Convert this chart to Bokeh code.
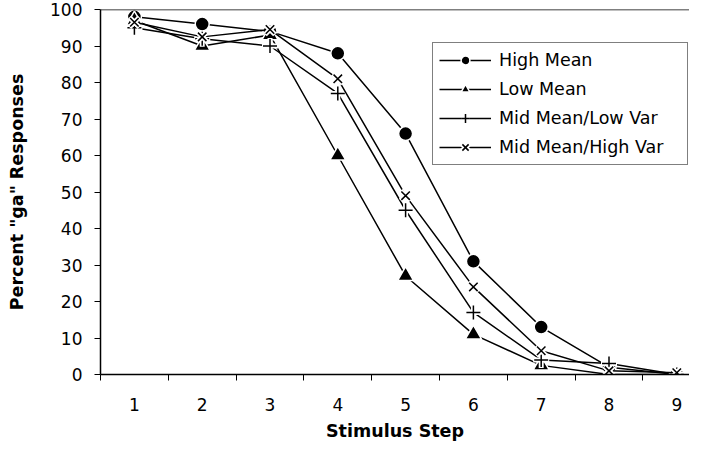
from bokeh.plotting import figure
from bokeh.models import Legend, LegendItem, FixedTicker, Span, Range1d
from bokeh.embed import file_html
from bokeh.resources import INLINE

steps = [1, 2, 3, 4, 5, 6, 7, 8, 9]
high_mean = [98, 96, 94, 88, 66, 31, 13, 2, 0]
low_mean = [97, 90, 93, 60, 27, 11, 2.5, 0, 0]
mid_low_var = [95, 92, 90, 77, 45, 17, 4, 3, 0]
mid_high_var = [96.5, 92.5, 94.5, 81, 49, 24, 6.5, 1, 0.5]
names = ["High Mean", "Low Mean", "Mid Mean/Low Var", "Mid Mean/High Var"]
y_ticks = [0, 10, 20, 30, 40, 50, 60, 70, 80, 90, 100]

FONT = "DejaVu Sans"
W, H = 689, 445
left, top = 100, 9
frame_h = 365
bottom = H - top - frame_h
px_per_step = 67.8
frame_w = W - left

p = figure(width=W, height=H, output_backend="svg", toolbar_location=None,
           x_range=Range1d(0.5, 0.5 + frame_w / px_per_step), y_range=Range1d(0, 100),
           min_border_left=left, min_border_top=top, min_border_bottom=bottom,
           min_border_right=0)
p.outline_line_color = None
p.grid.visible = False
p.background_fill_color = "white"
p.border_fill_color = "white"

# x axis: labels at category centres, ticks at boundaries (minor ticks)
xa = p.xaxis[0]
xa.ticker = FixedTicker(ticks=steps, minor_ticks=[s - 0.5 for s in steps] + [steps[-1] + 0.5])
xa.major_tick_line_color = None
xa.minor_tick_line_color = "black"
xa.minor_tick_out = 6
xa.minor_tick_in = 0
xa.axis_line_width = 1.5
xa.axis_line_color = "black"
xa.major_label_text_font = FONT
xa.major_label_text_font_size = "17px"
xa.major_label_text_color = "black"
xa.major_label_standoff = 17
xa.axis_label = "Stimulus Step"
xa.axis_label_text_font = FONT
xa.axis_label_text_font_style = "bold"
xa.axis_label_text_font_size = "17.5px"
xa.axis_label_text_color = "black"
xa.axis_label_standoff = 7

ya = p.yaxis[0]
ya.ticker = FixedTicker(ticks=y_ticks, minor_ticks=[])
ya.major_tick_out = 6
ya.major_tick_in = 0
ya.major_tick_line_color = "black"
ya.axis_line_width = 1.5
ya.axis_line_color = "black"
ya.major_label_text_font = FONT
ya.major_label_text_font_size = "17px"
ya.major_label_text_color = "black"
ya.major_label_standoff = 12
ya.axis_label = 'Percent "ga" Responses'
ya.axis_label_text_font = FONT
ya.axis_label_text_font_style = "bold"
ya.axis_label_text_font_size = "17.5px"
ya.axis_label_text_color = "black"
ya.axis_label_standoff = 20

p.add_layout(Span(location=100, dimension="width", line_color="black", line_width=1.5))

items = []
series = [
    (high_mean, "circle", 14),
    (low_mean, "triangle", 16),
    (mid_low_var, "cross", 14),
    (mid_high_var, "x", 12),
]
for (vals, marker, size), name in zip(series, names):
    rl = p.line(steps, vals, line_color="black", line_width=1.5)
    if marker in ("circle", "triangle"):
        rm = p.scatter(steps, vals, marker=marker, size=size, fill_color="black",
                       line_color="white", line_width=1.5)
        items.append(LegendItem(label=name, renderers=[rl, rm]))
    else:
        rh = p.scatter(steps, vals, marker=marker, size=size + 2, line_color="white",
                       line_width=5)
        rm = p.scatter(steps, vals, marker=marker, size=size, line_color="black",
                       line_width=1.5)
        items.append(LegendItem(label=name, renderers=[rl, rh, rm]))

legend = Legend(items=items, location=(332, 209))
legend.border_line_color = "black"
legend.border_line_width = 1
legend.background_fill_color = "white"
legend.background_fill_alpha = 1
legend.padding = 6
legend.margin = 0
legend.spacing = 7
legend.glyph_height = 22
legend.glyph_width = 52
legend.label_height = 22
legend.label_standoff = 8
legend.label_width = 182
legend.label_text_font = FONT
legend.label_text_font_size = "17.5px"
legend.label_text_color = "black"
p.add_layout(legend, "center")

open("out.html", "w").write(file_html(p, INLINE))
